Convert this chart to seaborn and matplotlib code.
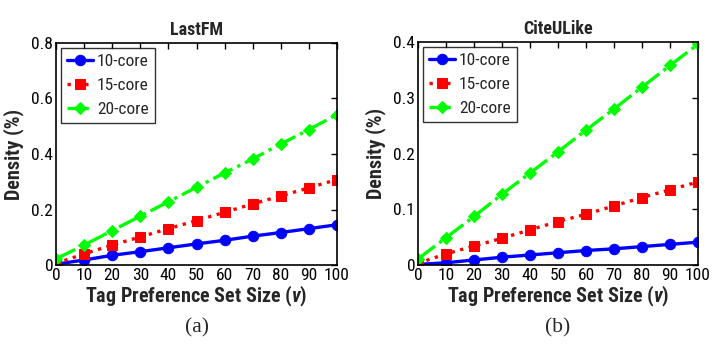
import matplotlib
matplotlib.use("Agg")
import matplotlib.pyplot as plt
import seaborn as sns
import pandas as pd
from matplotlib.ticker import FuncFormatter
from matplotlib import font_manager

sizes = [0, 10, 20, 30, 40, 50, 60, 70, 80, 90, 100]
series = ["10-core", "15-core", "20-core"]

lastfm_10 = [0.003, 0.018, 0.035, 0.048, 0.062, 0.076, 0.089, 0.104, 0.117, 0.131, 0.145]
lastfm_15 = [0.006, 0.040, 0.072, 0.101, 0.131, 0.160, 0.190, 0.220, 0.249, 0.278, 0.308]
lastfm_20 = [0.022, 0.072, 0.124, 0.176, 0.228, 0.280, 0.332, 0.382, 0.436, 0.488, 0.542]

cite_10 = [0.001, 0.004, 0.009, 0.014, 0.018, 0.022, 0.026, 0.029, 0.033, 0.037, 0.041]
cite_15 = [0.003, 0.020, 0.034, 0.048, 0.063, 0.078, 0.091, 0.106, 0.121, 0.135, 0.149]
cite_20 = [0.011, 0.049, 0.087, 0.127, 0.165, 0.203, 0.242, 0.280, 0.319, 0.358, 0.396]

titles = ["LastFM", "CiteULike"]
captions = ["(a)", "(b)"]
xlabel = "Tag Preference Set Size ($\\it{v}$)"
ylabel = "Density (%)"
ylims = [0.8, 0.4]
ysteps = [0.2, 0.1]

sns.set_theme(style="white")
available = {f.name for f in font_manager.fontManager.ttflist}
narrow = "Liberation Sans"
for cand in ["Liberation Sans Narrow", "Arial Narrow", "Roboto Condensed", "DejaVu Sans Condensed"]:
    if cand in available:
        narrow = cand
        break
is_narrow = narrow != "Liberation Sans"
plt.rcParams['font.family'] = [narrow, 'Liberation Sans', 'DejaVu Sans']
plt.rcParams['mathtext.fontset'] = 'custom'
plt.rcParams['mathtext.it'] = narrow + ':italic:bold'

sc = 1.0 if is_narrow else 0.88
tick_fs = 12.5 * sc
label_fs = 14.5 * sc
title_fs = 13 * sc
leg_fs = 12.5 * sc

colors = {"10-core": "#0000ff", "15-core": "#ff0000", "20-core": "#00ff00"}
markers = {"10-core": "o", "15-core": "s", "20-core": "D"}
styles = {"10-core": "-", "15-core": ":", "20-core": "-."}
msizes = {"10-core": 7.5, "15-core": 6.5, "20-core": 6}


def make_df(a, b, c):
    rows = []
    for name, vals in zip(series, [a, b, c]):
        for x, y in zip(sizes, vals):
            rows.append({"v": x, "density": y, "series": name})
    return pd.DataFrame(rows)

dfs = [make_df(lastfm_10, lastfm_15, lastfm_20), make_df(cite_10, cite_15, cite_20)]

fig = plt.figure(figsize=(7.23, 3.47), dpi=100)
axes_pos = [[56/723, 1-265/347, 281/723, 222/347], [418/723, 1-265/347, 280/723, 223/347]]

for i in range(2):
    ax = fig.add_axes(axes_pos[i])
    df = dfs[i]
    for name in series:
        sub = df[df.series == name]
        sns.lineplot(data=sub, x="v", y="density", ax=ax, color=colors[name],
                     marker=markers[name], markersize=msizes[name],
                     markeredgecolor=colors[name], linewidth=2.4, linestyle=styles[name],
                     label=name, legend=False)
    ax.set_xlim(0, 100)
    ax.set_ylim(0, ylims[i])
    ax.set_xticks(sizes)
    n = int(round(ylims[i] / ysteps[i]))
    ax.set_yticks([k * ysteps[i] for k in range(n + 1)])
    ax.yaxis.set_major_formatter(FuncFormatter(lambda v, p: "0" if abs(v) < 1e-9 else f"{v:.1f}"))
    ax.tick_params(direction="in", length=4, width=1, top=True, right=True,
                   labelsize=tick_fs, colors="black", pad=2)
    for s in ax.spines.values():
        s.set_color("black")
        s.set_linewidth(1.2)
    ax.set_title(titles[i], fontsize=title_fs, fontweight="bold", pad=6)
    ax.set_xlabel(xlabel, fontsize=label_fs, fontweight="bold", labelpad=1)
    ax.set_ylabel(ylabel, fontsize=label_fs, fontweight="bold", labelpad=5)
    leg = ax.legend(loc="upper left", fontsize=leg_fs, frameon=True, fancybox=False,
                    edgecolor="black", borderaxespad=0.3, handlelength=1.5,
                    labelspacing=0.5, borderpad=0.35, handletextpad=0.2)
    leg.get_frame().set_linewidth(1.0)
    ax.text(0.5, -0.24, captions[i], transform=ax.transAxes, ha="center", va="top",
            fontsize=15.5, family=["Liberation Serif", "DejaVu Serif"])

fig.savefig("out.png", dpi=100)
